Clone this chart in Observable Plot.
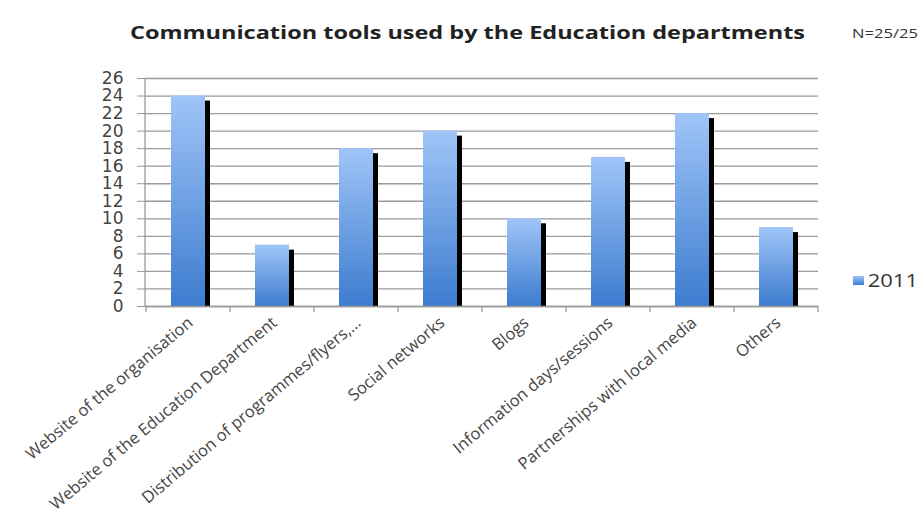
<!DOCTYPE html>
<html>
<head>
<meta charset="utf-8">
<script src="https://cdn.jsdelivr.net/npm/d3@7"></script>
<script src="https://cdn.jsdelivr.net/npm/@observablehq/plot@0.6"></script>
<style>
  html, body { margin: 0; padding: 0; background: #fff; }
  #wrap { position: relative; width: 921px; height: 532px; overflow: hidden; font-family: "Open Sans", Lato, sans-serif; }
  .abs { position: absolute; white-space: nowrap; transform-origin: 0 50%; }
  #title { left: 130px; top: 21px; font-weight: bold; font-size: 17px; color: #222; }
  #n { left: 852px; top: 24px; font-size: 13px; color: #333; }
  #legend { left: 853px; top: 268px; font-size: 18px; color: #333; display: flex; align-items: center; }
  #legend span.sw { display: inline-block; width: 9px; height: 9px; margin-right: 3px; background: linear-gradient(#9dc3f7, #3f7fd0); }
  #chart { position: absolute; left: 0; top: 0; }
</style>
</head>
<body>
<div id="wrap">
  <div id="chart"></div>
  <div id="title" class="abs">Communication tools used by the Education departments</div>
  <div id="n" class="abs">N=25/25</div>
  <div id="legend" class="abs"><span class="sw"></span>2011</div>
</div>
<script>
const categories = [
  "Website of the organisation",
  "Website of the Education Department",
  "Distribution of programmes/flyers,...",
  "Social networks",
  "Blogs",
  "Information days/sessions",
  "Partnerships with local media",
  "Others"
];
const values2011 = [24, 7, 18, 20, 10, 17, 22, 9];
const yTicks = d3.range(0, 27, 2);

const data = categories.map((c, i) => ({category: c, value: values2011[i]}));

const plot = Plot.plot({
  width: 921,
  height: 532,
  marginTop: 78,
  marginBottom: 226,
  marginLeft: 145,
  marginRight: 103,
  style: {fontFamily: "'Open Sans', Lato, sans-serif", background: "transparent", overflow: "visible"},
  x: {domain: categories, paddingInner: 0.6, paddingOuter: 0.3, label: null},
  y: {domain: [0, 26], ticks: yTicks, label: null},
  marks: [
    Plot.gridY(yTicks, {stroke: "#9a9a9a", strokeOpacity: 1, strokeWidth: 1.3}),
    Plot.axisY(yTicks, {tickSize: 8, stroke: "#9a9a9a", fill: "#444", fontSize: 17, fontFamily: "'DejaVu Sans', sans-serif", tickPadding: 14, label: null, tickFormat: d => d}),
    Plot.barY(data, {x: "category", y: "value", fill: "black", dx: 5, dy: 1, insetTop: 4}),
    Plot.barY(data, {x: "category", y: "value", fill: "url(#barGrad)"}),
    Plot.ruleY([0], {stroke: "#9a9a9a", strokeWidth: 1.3}),
    Plot.axisX({tickSize: 0, tickRotate: -40, fontSize: 16.5, fill: "#444", textAnchor: "end", tickPadding: 10, dx: 2, dy: 4, label: null})
  ]
});

// gradient defs
const ns = "http://www.w3.org/2000/svg";
const defs = document.createElementNS(ns, "defs");
defs.innerHTML = '<linearGradient id="barGrad" x1="0" y1="0" x2="0" y2="1">' +
  '<stop offset="0" stop-color="#9fc5f8"/><stop offset="1" stop-color="#3d7ccf"/></linearGradient>';
plot.insertBefore(defs, plot.firstChild);

// left axis line and band-boundary ticks
const xs = plot.scale("x");
const ys = plot.scale("y");
const g = d3.select(plot).append("g").attr("stroke", "#9a9a9a").attr("stroke-width", 1.3);
g.append("line").attr("x1", 145).attr("x2", 145).attr("y1", ys.apply(26)).attr("y2", ys.apply(0));
const step = xs.step;
const left = xs.apply(categories[0]) - (step - xs.bandwidth) / 2;
for (let i = 0; i <= categories.length; i++) {
  const x = left + i * step;
  g.append("line").attr("x1", x).attr("x2", x).attr("y1", ys.apply(0)).attr("y2", ys.apply(0) + 6);
}

document.getElementById("chart").appendChild(plot);

// stretch header texts horizontally to the widths seen in the reference
function fitWidth(id, target) {
  const el = document.getElementById(id);
  const w = el.getBoundingClientRect().width;
  if (w > 0) el.style.transform = `scaleX(${target / w})`;
}
fitWidth("title", 675);
fitWidth("n", 66);
fitWidth("legend", 65);
</script>
</body>
</html>
